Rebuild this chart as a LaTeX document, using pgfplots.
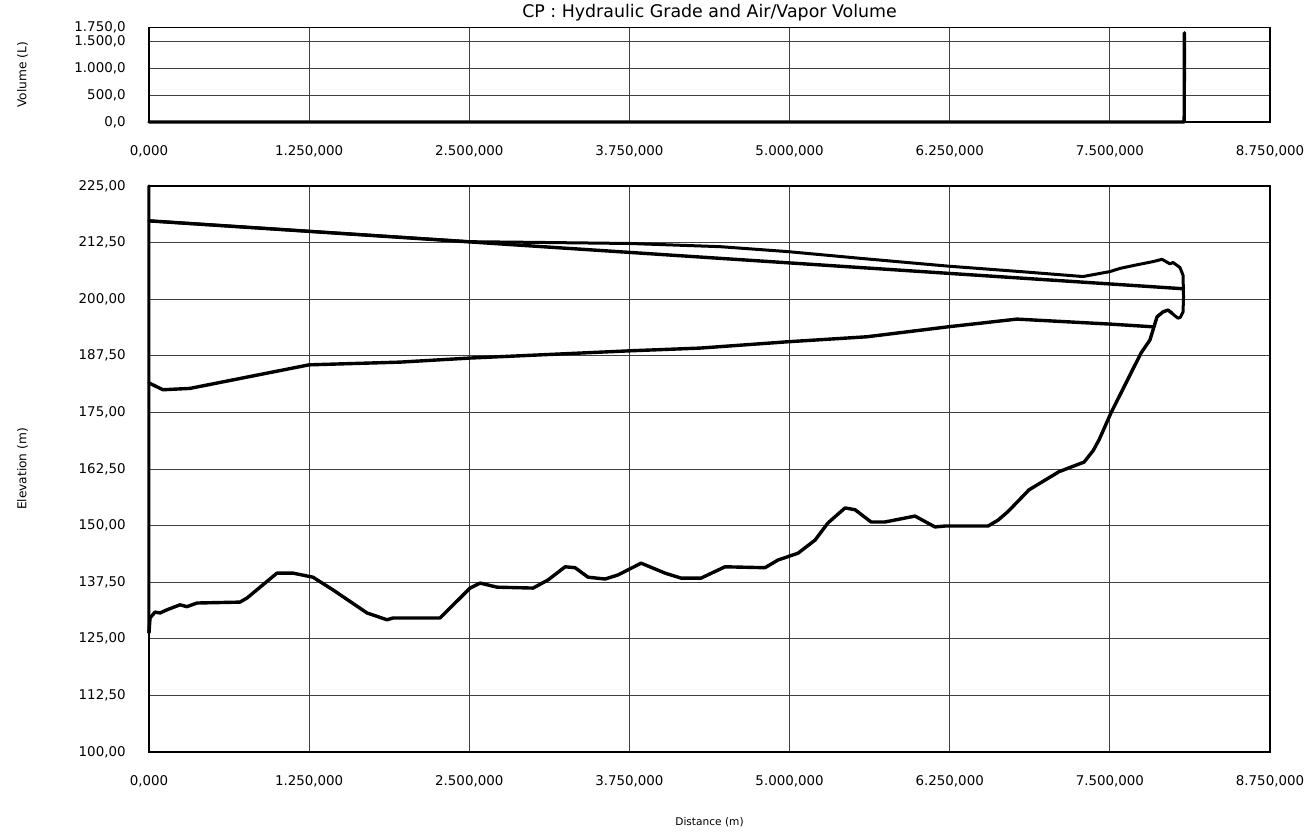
\documentclass[border=0pt]{standalone}
\usepackage{fontspec}
\setmainfont{DejaVu Sans}
\usepackage{pgfplots}
\pgfplotsset{compat=1.18}
\pgfplotsset{
  common/.style={
    scale only axis, width=560.5pt,
    xmin=0, xmax=8750,
    xtick={0,1250,2500,3750,5000,6250,7500,8750},
    xticklabels={{0,000},{1.250,000},{2.500,000},{3.750,000},{5.000,000},{6.250,000},{7.500,000},{8.750,000}},
    grid=major, major grid style={black!75, line width=0.45pt},
    axis line style={line width=0.6pt},
    major tick length=0pt,
    tick label style={font=\fontsize{6.7}{8}\selectfont, inner sep=0pt},
    xticklabel style={anchor=base, yshift=-17pt},
    yticklabel style={anchor=east, xshift=-11.5pt},
    ylabel style={at={(axis description cs:-0.1128,0.5)}, anchor=center, font=\fontsize{6.1}{7}\selectfont},
    clip=false,
  },
  dl/.style={black, line width=1.7pt, line join=round, line cap=round, mark=none},
}
\begin{document}
\begin{tikzpicture}[x=1pt,y=1pt]
\useasboundingbox (0,0) rectangle (654,417);
% ---------- top panel: volume ----------
\begin{axis}[common, at={(74.5pt,356pt)}, anchor=south west, height=47.25pt,
  ymin=0, ymax=1750, ytick={0,500,1000,1500,1750},
  yticklabels={{0,0},{500,0},{1.000,0},{1.500,0},{1.750,0}},
  ylabel={Volume (L)},
  title={CP : Hydraulic Grade and Air/Vapor Volume},
  every axis title/.style={at={(axis description cs:0.5,1)}, anchor=base, yshift=5pt, inner sep=0pt, font=\fontsize{8.7}{10}\selectfont},
]
\addplot[dl] coordinates {(0,0) (8080,0) (8082,1650)};
\end{axis}
% ---------- bottom panel: elevation ----------
\begin{axis}[common, at={(74.5pt,41pt)}, anchor=south west, height=283pt,
  ymin=100, ymax=225, ytick={100,112.5,125,137.5,150,162.5,175,187.5,200,212.5,225},
  yticklabels={{100,00},{112,50},{125,00},{137,50},{150,00},{162,50},{175,00},{187,50},{200,00},{212,50},{225,00}},
  ylabel={Elevation (m)},
  xlabel={Distance (m)},
  xlabel style={at={(axis description cs:0.5,0)}, anchor=base, yshift=-37pt, inner sep=0pt, font=\fontsize{5.3}{6}\selectfont},
]
% steady-state hydraulic grade
\addplot[dl] coordinates {(0,217.3) (8075,202.3)};
% maximum envelope
\addplot[dl, line width=1.5pt] coordinates {
 (0,126.3) (0,225) (0,217.3) (1250,215.0) (2506,212.7) (3000,212.55) (3755,212.3)
 (4457,211.6) (4988,210.5) (5600,208.9) (6237,207.3) (6800,206.1) (7290,205.0)
 (7501,206.1) (7579,206.8) (7712,207.6) (7837,208.3) (7907,208.8) (7969,207.8)
 (7993,208.1) (8047,207.0) (8071,205.3) (8075,200.5) (8071,197.2) (8050,196.0)
 (8032,195.8) (8005,196.4) (7985,196.9)};
% minimum envelope
\addplot[dl] coordinates {
 (0,181.5) (109,180.0) (320,180.3) (1249,185.5) (1959,186.1) (2506,187.0)
 (3755,188.6) (4301,189.2) (4988,190.6) (5604,191.7) (6237,193.9) (6775,195.6)
 (7501,194.5) (7837,193.9)};
% pipe / ground profile
\addplot[dl] coordinates {
 (0,126.3) (8,129.6) (47,130.9) (86,130.7) (140,131.4) (242,132.5) (296,132.1)
 (375,132.9) (710,133.1) (765,134.0) (999,139.5) (1124,139.5) (1280,138.6)
 (1436,135.8) (1702,130.7) (1858,129.2) (1905,129.6) (2272,129.6) (2506,136.2)
 (2584,137.3) (2717,136.4) (2998,136.2) (3115,138.0) (3248,140.9) (3326,140.7)
 (3427,138.6) (3560,138.2) (3661,139.1) (3841,141.7) (4028,139.5) (4153,138.4)
 (4309,138.4) (4496,140.9) (4808,140.7) (4910,142.4) (5066,143.9) (5199,146.8)
 (5300,150.6) (5433,153.9) (5511,153.5) (5636,150.8) (5745,150.8) (5979,152.1)
 (6135,149.7) (6213,149.9) (6549,149.9) (6627,151.2) (6705,153.1) (6869,157.9)
 (7103,161.9) (7259,163.6) (7298,164.0) (7368,166.5) (7415,168.9) (7509,174.9)
 (7743,188.1) (7813,191.0) (7868,196.1) (7915,197.2) (7954,197.6) (7985,196.9)};
\end{axis}
\end{tikzpicture}
\end{document}
